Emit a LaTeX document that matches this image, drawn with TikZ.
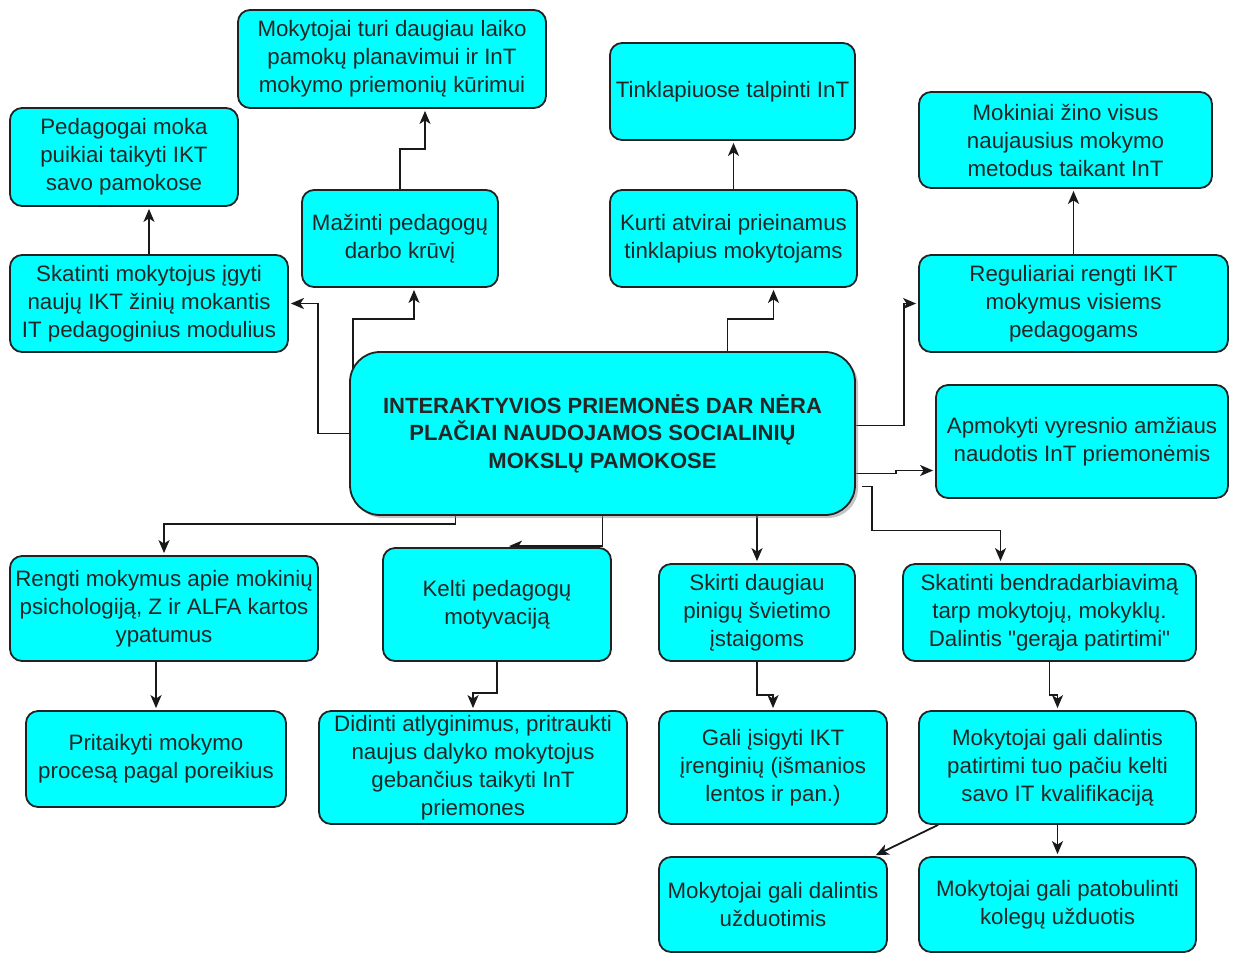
\documentclass[tikz,border=0pt]{standalone}
\usepackage{fontspec}
\setmainfont{Liberation Sans}
\newfontfamily\plainq{Liberation Sans}
\usetikzlibrary{arrows.meta,shadows,backgrounds}
\definecolor{boxcyan}{RGB}{0,255,255}
\definecolor{boxline}{RGB}{34,34,34}

\begin{document}
\begin{tikzpicture}[x=1pt,y=-1pt,
	box/.style={draw=boxline,line width=1.8pt,fill=boxcyan,rounded corners=12pt,
		align=center,inner sep=0pt,text=black!85,
		font=\fontsize{22.3pt}{28pt}\selectfont},
	arr/.style={draw=black!90,line width=1.8pt,
		-{Stealth[length=13pt,width=11pt,inset=3.5pt]},shorten >=2pt}]
	\useasboundingbox (0,0) rectangle (1233,954);

	% centre
	\node[box,minimum width=505pt,minimum height=163pt,rounded corners=30pt,
		font=\bfseries\fontsize{22pt}{27.5pt}\selectfont,
		drop shadow={shadow xshift=3pt,shadow yshift=-3pt,fill=black!45}] (main) at (602.5,433.5)
		{INTERAKTYVIOS PRIEMONĖS DAR NĖRA\\PLAČIAI NAUDOJAMOS SOCIALINIŲ\\MOKSLŲ PAMOKOSE};

	% upper part
	\node[box,minimum width=228pt,minimum height=98pt] (ped) at (124,157)
		{Pedagogai moka\\puikiai taikyti IKT\\savo pamokose};
	\node[box,minimum width=308pt,minimum height=98pt] (turi) at (392,59)
		{Mokytojai turi daugiau laiko\\pamokų planavimui ir InT\\mokymo priemonių kūrimui};
	\node[box,minimum width=196pt,minimum height=97pt] (maz) at (400,238.5)
		{Mažinti pedagogų\\darbo krūvį};
	\node[box,minimum width=278pt,minimum height=97pt] (skm) at (149,303.5)
		{Skatinti mokytojus įgyti\\naujų IKT žinių mokantis\\IT pedagoginius modulius};
	\node[box,minimum width=245pt,minimum height=97pt] (tink) at (732.5,91.5)
		{Tinklapiuose talpinti InT};
	\node[box,minimum width=247pt,minimum height=97pt] (kurti) at (733.5,238.5)
		{Kurti atvirai prieinamus\\tinklapius mokytojams};
	\node[box,minimum width=293pt,minimum height=96pt] (mokin) at (1065.5,140)
		{Mokiniai žino visus\\naujausius mokymo\\metodus taikant InT};
	\node[box,minimum width=309pt,minimum height=97pt] (reg) at (1073.5,303.5)
		{Reguliariai rengti IKT\\mokymus visiems\\pedagogams};
	\node[box,minimum width=292pt,minimum height=113pt] (apm) at (1082,441.5)
		{Apmokyti vyresnio amžiaus\\naudotis InT priemonėmis};

	% lower part
	\node[box,minimum width=308pt,minimum height=105pt] (reng) at (164,608.5)
		{Rengti mokymus apie mokinių\\psichologiją, Z ir ALFA kartos\\ypatumus};
	\node[box,minimum width=228pt,minimum height=113pt] (kelti) at (497,604.5)
		{Kelti pedagogų\\motyvaciją};
	\node[box,minimum width=196pt,minimum height=97pt] (skirti) at (757,612.5)
		{Skirti daugiau\\pinigų švietimo\\įstaigoms};
	\node[box,minimum width=293pt,minimum height=97pt] (bend) at (1049.5,612.5)
		{Skatinti bendradarbiavimą\\tarp mokytojų, mokyklų.\\Dalintis {\plainq"}gerąja patirtimi{\plainq"}};
	\node[box,minimum width=260pt,minimum height=96pt] (prit) at (156,759)
		{Pritaikyti mokymo\\procesą pagal poreikius};
	\node[box,minimum width=308pt,minimum height=113pt] (did) at (473,767.5)
		{Didinti atlyginimus, pritraukti\\naujus dalyko mokytojus\\gebančius taikyti InT\\priemones};
	\node[box,minimum width=228pt,minimum height=113pt] (gali) at (773,767.5)
		{Gali įsigyti IKT\\įrenginių (išmanios\\lentos ir pan.)};
	\node[box,minimum width=277pt,minimum height=113pt] (pat) at (1057.5,767.5)
		{Mokytojai gali dalintis\\patirtimi tuo pačiu kelti\\savo IT kvalifikaciją};
	\node[box,minimum width=228pt,minimum height=95pt] (uzd) at (773,904.5)
		{Mokytojai gali dalintis\\užduotimis};
	\node[box,minimum width=277pt,minimum height=95pt] (patob) at (1057.5,904.5)
		{Mokytojai gali patobulinti\\kolegų užduotis};

	% connectors
	\begin{scope}[on background layer]
		\draw[arr] (skm.north) -- (skm.north |- ped.south);
		\draw[arr] (maz.north) -- ++(0,-40) -| ([xshift=33pt]turi.south);
		\draw[arr] (main.west) -- ++(-31,0) |- (skm.east);
		\draw[arr] ([xshift=4pt,yshift=-18pt]main.north west) -- ++(0,-50) -| ([xshift=14pt]maz.south);
		\draw[arr] ([xshift=125pt]main.north) -- ++(0,-32) -| ([xshift=40pt]kurti.south);
		\draw[arr] (kurti.north) -- (kurti.north |- tink.south);
		\draw[arr] (reg.north) -- (reg.north |- mokin.south);
		\draw[arr] ([yshift=8pt]main.east) -- ++(48,0) |- (reg.west);
		\draw[arr] ([yshift=-40pt]main.east) -- ++(40,0) |- ([yshift=-29pt]apm.west);
		\draw[arr] ([xshift=6pt,yshift=-53pt]main.east) -- ++(10,0) -- ++(0,44) -| ([xshift=-49pt]bend.north);
		\draw[arr] ([xshift=-147pt]main.south) -- ++(0,8) -| (reng.north);
		\draw[arr] (main.south) |- ([xshift=10pt,yshift=1pt]kelti.north);
		\draw[arr] (main.south -| skirti.north) -- (skirti.north);
		\draw[arr] (prit.north |- reng.south) -- (prit.north);
		\draw[arr] (kelti.south) -- ++(0,31) -| (did.north);
		\draw[arr] (skirti.south) -- ++(0,33) -| (gali.north);
		\draw[arr] (bend.south) -- ++(0,33) -| (pat.north);
		\draw[arr] ([xshift=20pt]pat.south west) -- ([xshift=-14pt]uzd.north east);
		\draw[arr] (pat.south) -- (patob.north);
	\end{scope}
\end{tikzpicture}
\end{document}
